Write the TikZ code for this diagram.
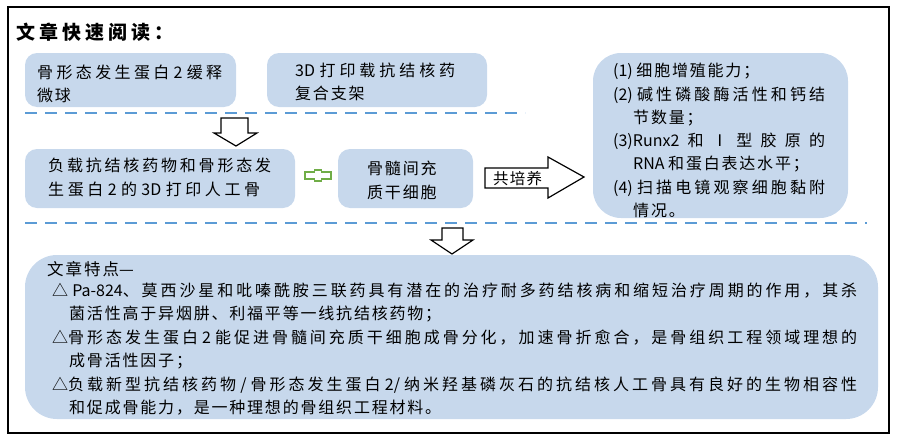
\documentclass[tikz,border=0pt]{standalone}
\usepackage{fontspec}
\setmainfont{Noto Sans CJK SC}
% per-character spacing between CJK characters (allows justification)
\newcount\cjkcc
\cjkcc="4E00
\loop \XeTeXcharclass\cjkcc=1 \advance\cjkcc by 1 \ifnum\cjkcc<"A000 \repeat
\XeTeXcharclass"3001=3 \XeTeXcharclass"3002=3
\XeTeXcharclass"FF0C=3 \XeTeXcharclass"FF1B=3 \XeTeXcharclass"FF1A=3
\XeTeXinterchartokenstate=1
\newskip\cjkgap \cjkgap=1.8pt plus 4pt minus 1pt
\XeTeXinterchartoks 1 1 = {\hskip\cjkgap\relax}
\XeTeXinterchartoks 1 3 = {\hskip\cjkgap\relax}
\XeTeXinterchartoks 3 1 = {\hskip\cjkgap\relax}
\definecolor{boxblue}{RGB}{199,216,236}
\definecolor{dashblue}{RGB}{91,155,213}
\definecolor{plusgreen}{RGB}{112,173,71}
\tikzset{
  box/.style={fill=boxblue, draw=none, rounded corners=12pt},
  bigbox/.style={fill=boxblue, draw=none, rounded corners=28pt},
  sep/.style={draw=dashblue, line width=1.8pt, dash pattern=on 12pt off 8pt},
  blockarrow/.style={draw=black, fill=white, line width=1.2pt, line join=miter},
  txt/.style={anchor=base west, inner sep=0pt, font=\fontsize{16}{20}\selectfont},
}
% one line of text stretched to the given width
\newcommand{\jline}[2]{\begin{minipage}[t]{#1}\parindent=0pt\parfillskip=0pt #2\par\end{minipage}}
\begin{document}
\begin{tikzpicture}[x=1pt,y=-1pt]
\useasboundingbox (0,0) rectangle (899,439);
% outer frame
\draw[line width=1.2pt] (8,7) rectangle (889,433);
% title
\node[txt, font=\fontsize{19}{24}\selectfont\bfseries] (title) at (16,39) {\cjkgap=4pt 文章快速阅读：};
% boxes top row
\fill[box] (25,53) rectangle (236,107);
\node[txt] (b1a) at (37,78) {\jline{185pt}{骨形态发生蛋白 2 缓释}};
\node[txt] (b1b) at (37,101) {微球};
\fill[box] (267,53) rectangle (487,107);
\node[txt] (b2a) at (295,76) {\jline{160pt}{3D 打印载抗结核药}};
\node[txt] (b2b) at (295,99) {复合支架};
% dashed separator 1
\draw[sep] (25,113) -- (525,113);
% down arrow 1
\draw[blockarrow] (221,118) -- (248,118) -- (248,133) -- (257,133) -- (236,146) -- (214,133) -- (221,133) -- cycle;
% middle row
\fill[box] (25,149) rectangle (295,208);
\node[txt] (b3a) at (48,171) {\jline{223pt}{负载抗结核药物和骨形态发}};
\node[txt] (b3b) at (48,195.5) {\jline{212pt}{生蛋白 2 的 3D 打印人工骨}};
% plus
\draw[draw=plusgreen, fill=white, line width=1.2pt] (305,172) -- (314.5,172) -- (314.5,170) -- (321.5,170) -- (321.5,172) -- (331,172) -- (331,179) -- (321.5,179) -- (321.5,181) -- (314.5,181) -- (314.5,179) -- (305,179) -- cycle;
\fill[box] (338,149) rectangle (473,208);
\node[txt] (b4a) at (367,174) {骨髓间充};
\node[txt] (b4b) at (367,198) {质干细胞};
% right arrow
\draw[blockarrow] (485,168) -- (548,168) -- (548,157) -- (584,177) -- (548,198) -- (548,188) -- (485,188) -- cycle;
\node[txt, font=\fontsize{15.5}{18}\selectfont] (co) at (493,184) {\cjkgap=1.2pt 共培养};
% right results box
\fill[bigbox] (593,53) rectangle (848,218);
\node[txt] (r1) at (613,76) {(1) 细胞增殖能力；};
\node[txt] (r2a) at (613,100) {\jline{212pt}{(2) 碱性磷酸酶活性和钙结}};
\node[txt] (r2b) at (633,123) {节数量；};
\node[txt] (r3a) at (613,146) {\jline{212pt}{(3)Runx2 和 Ⅰ 型 胶 原 的}};
\node[txt] (r3b) at (633,169) {RNA 和蛋白表达水平；};
\node[txt] (r4a) at (613,193) {\jline{212pt}{(4) 扫描电镜观察细胞黏附}};
\node[txt] (r4b) at (633,216) {情况。};
% dashed separator 2
\draw[sep] (25,223) -- (867,223);
% down arrow 2
\draw[blockarrow] (442,228) -- (463,228) -- (463,240) -- (473,240) -- (452,254) -- (431,240) -- (442,240) -- cycle;
% bottom box
\fill[box, rounded corners=32pt] (25,255) rectangle (878,419);
\node[txt, font=\fontsize{16.5}{20}\selectfont] (feat) at (47,275) {\cjkgap=2pt 文章特点—};
\node[txt] (f1a) at (52,296) {\jline{805pt}{△ Pa-824、莫西沙星和吡嗪酰胺三联药具有潜在的治疗耐多药结核病和缩短治疗周期的作用，其杀}};
\node[txt] (f1b) at (69,319.5) {菌活性高于异烟肼、利福平等一线抗结核药物；};
\node[txt] (f2a) at (52,343) {\jline{805pt}{△骨形态发生蛋白 2 能促进骨髓间充质干细胞成骨分化，加速骨折愈合，是骨组织工程领域理想的}};
\node[txt] (f2b) at (69,366.5) {成骨活性因子；};
\node[txt] (f3a) at (52,390) {\jline{805pt}{△负载新型抗结核药物 / 骨形态发生蛋白 2/ 纳米羟基磷灰石的抗结核人工骨具有良好的生物相容性}};
\node[txt] (f3b) at (69,413.5) {和促成骨能力，是一种理想的骨组织工程材料。};
\end{tikzpicture}
\end{document}
